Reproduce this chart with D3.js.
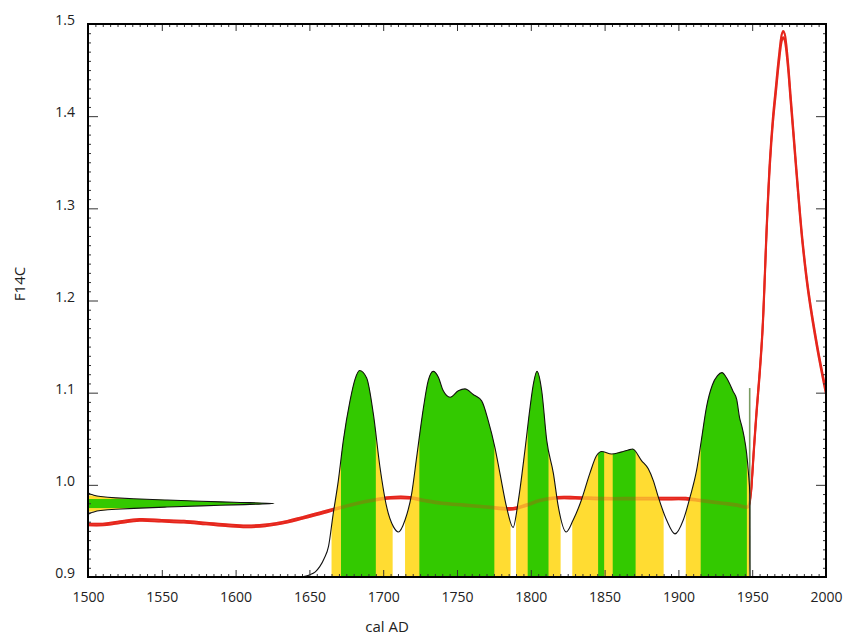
<!DOCTYPE html>
<html><head><meta charset="utf-8">
<script src="https://cdn.jsdelivr.net/npm/d3@7"></script>
<style>
body{margin:0;background:#fff}
svg{display:block}
text{font-family:"Open Sans",sans-serif;fill:#222}
</style>
</head><body>
<svg id="c" width="843" height="636"></svg>
<script>
// ---------- data ----------
const xTickValues = [1500,1550,1600,1650,1700,1750,1800,1850,1900,1950,2000];
const xTickLabels = ["1500","1550","1600","1650","1700","1750","1800","1850","1900","1950","2000"];
const yTickValues = [0.9,1.0,1.1,1.2,1.3,1.4,1.5];
const yTickLabels = ["0.9","1.0","1.1","1.2","1.3","1.4","1.5"];

// calibration curve (F14C vs cal AD)
const calYears = [1500,1510,1520,1535,1550,1565,1580,1595,1607,1620,1635,1645,1657,1668,1680,1692,1705,1718,1728,1740,1755,1770,1788,1797,1806,1818,1830,1850,1870,1890,1905,1915,1930,1940,1947,1949,1950,1951,1953,1955,1957,1960,1962,1964,1966,1968,1970,1971,1972,1974,1976,1978,1981,1984,1988,1994,2000];
const calF     = [0.957,0.957,0.959,0.962,0.961,0.960,0.958,0.956,0.955,0.956,0.960,0.964,0.969,0.974,0.979,0.983,0.986,0.986,0.983,0.980,0.978,0.976,0.974,0.978,0.983,0.986,0.986,0.985,0.985,0.985,0.985,0.983,0.980,0.978,0.976,0.990,1.010,1.035,1.080,1.120,1.168,1.285,1.350,1.395,1.428,1.460,1.485,1.489,1.486,1.460,1.420,1.380,1.320,1.265,1.210,1.150,1.100];
const calSigma = [0.0009,0.0009,0.0009,0.0009,0.0009,0.0009,0.0009,0.0009,0.0009,0.0009,0.0009,0.0009,0.0009,0.0009,0.0009,0.0009,0.0009,0.0009,0.0009,0.0009,0.0009,0.0009,0.0009,0.0009,0.0009,0.0009,0.0009,0.0009,0.0009,0.0009,0.0009,0.0009,0.0009,0.0009,0.0009,0.001,0.0012,0.0015,0.0018,0.002,0.0022,0.0025,0.0028,0.003,0.0032,0.0034,0.0035,0.0035,0.0035,0.0034,0.003,0.0028,0.0025,0.0022,0.002,0.0018,0.0016];

// calibrated age probability (relative)
const densYears = [1640,1646,1650,1654,1657,1660,1663,1666,1669.6,1673,1677.5,1681,1684,1688.8,1693.3,1697.8,1702.4,1706.9,1710.3,1714.8,1719.3,1722.7,1727.3,1730.5,1733.9,1737.3,1740.7,1745.3,1750.9,1755.4,1761,1766.7,1771.2,1775.7,1779.1,1783.6,1788,1791.6,1796,1799.5,1801.7,1804.2,1807.4,1810.8,1815.3,1818.7,1824,1828.7,1834.3,1840,1844.5,1848,1854.7,1861,1866,1869,1875,1879.6,1883,1886.4,1892,1897.7,1903.3,1908,1912.3,1915.5,1919,1923,1926.5,1929.5,1933,1937,1939.5,1941.5,1943,1944.5,1946.2,1947.5,1948.4,1948.5,1960];
const densProb  = [0,0.002,0.01,0.025,0.05,0.09,0.15,0.3,0.467,0.662,0.853,0.96,1.0,0.964,0.791,0.533,0.338,0.244,0.218,0.276,0.404,0.582,0.822,0.951,0.996,0.969,0.902,0.871,0.902,0.911,0.884,0.853,0.756,0.627,0.502,0.338,0.24,0.373,0.613,0.822,0.933,0.996,0.902,0.662,0.502,0.338,0.218,0.276,0.373,0.502,0.587,0.608,0.596,0.605,0.615,0.62,0.564,0.524,0.467,0.387,0.276,0.209,0.276,0.39,0.516,0.66,0.822,0.93,0.975,0.99,0.96,0.9,0.86,0.77,0.73,0.68,0.6,0.5,0.4,0,0];

const range95 = [[1665,1706.4],[1714.8,1786.3],[1790,1820.2],[1828.1,1890],[1905,1948.5]];
const range68 = [[1671.4,1695],[1724.5,1775.3],[1797.9,1812],[1845.6,1849.7],[1855.5,1871],[1915.1,1946.4]];
const spikeYear = 1948.3, spikeF = 1.105;

// measured F14C distribution
const measMean = 0.9797;
const measOffsets = [-0.0122,-0.011,-0.0095,-0.0076,-0.0062,-0.0052,-0.0038,-0.0025,-0.0014,0,0.0014,0.0025,0.0038,0.0052,0.0062,0.0076,0.0095,0.011,0.0122];
const measProb    = [0,0.006,0.025,0.068,0.15,0.247,0.425,0.61,0.785,1.0,0.785,0.61,0.425,0.247,0.15,0.068,0.025,0.006,0];
const meas68 = [-0.0049,0.0049];
const meas95 = [-0.0088,0.0088];

// ---------- drawing ----------
const svg = d3.select("#c");
const L=88,R=826,T=24,B=577;
const x = d3.scaleLinear().domain([1500,2000]).range([L,R]);
const y = d3.scaleLinear().domain([0.9,1.5]).range([B,T]);
const yd = d3.scaleLinear().domain([0,1]).range([y(0.9), y(1.124)]);
const xg = d3.scaleLinear().domain([0,1]).range([x(1500), x(1626)]);

const GREEN="#33c900", YELLOW="#ffdc32", RED="#e6261c";

const defs = svg.append("defs");
defs.append("clipPath").attr("id","plot").append("rect").attr("x",L).attr("y",T).attr("width",R-L).attr("height",B-T);

const dens = densYears.map((yr,i)=>({yr, p:densProb[i]}));
const densArea = d3.area().curve(d3.curveMonotoneX).x(d=>x(d.yr)).y0(yd(0)).y1(d=>yd(d.p));
const densLine = d3.line().curve(d3.curveMonotoneX).x(d=>x(d.yr)).y(d=>yd(d.p));
defs.append("clipPath").attr("id","densclip").append("path").attr("d",densArea(dens));

const meas = measOffsets.map((o,i)=>({F:measMean+o, p:measProb[i]}));
const measArea = d3.area().curve(d3.curveMonotoneY).y(d=>y(d.F)).x0(xg(0)).x1(d=>xg(d.p));
const measLine = d3.line().curve(d3.curveMonotoneY).y(d=>y(d.F)).x(d=>xg(d.p));
defs.append("clipPath").attr("id","measclip").append("path").attr("d",measArea(meas));

const g = svg.append("g").attr("clip-path","url(#plot)");

const cal = calYears.map((yr,i)=>({yr, f:calF[i], s:calSigma[i]}));
const calUp = d3.line().curve(d3.curveCatmullRom.alpha(0.5)).x(d=>x(d.yr)).y(d=>y(d.f+d.s));
const calLo = d3.line().curve(d3.curveCatmullRom.alpha(0.5)).x(d=>x(d.yr)).y(d=>y(d.f-d.s));
function drawCal(op){
  const cg = g.append("g").attr("opacity",op);
  cg.append("path").attr("d",calUp(cal)).attr("fill","none").attr("stroke",RED).attr("stroke-width",2);
  cg.append("path").attr("d",calLo(cal)).attr("fill","none").attr("stroke",RED).attr("stroke-width",2);
}
drawCal(1);

// density fills
const dg = g.append("g").attr("clip-path","url(#densclip)");
dg.selectAll("rect.y95").data(range95).join("rect")
  .attr("x",d=>x(d[0])).attr("width",d=>x(d[1])-x(d[0]))
  .attr("y",yd(1.05)).attr("height",yd(0)-yd(1.05)).attr("fill",YELLOW);
dg.selectAll("rect.g68").data(range68).join("rect")
  .attr("x",d=>x(d[0])).attr("width",d=>x(d[1])-x(d[0]))
  .attr("y",yd(1.05)).attr("height",yd(0)-yd(1.05)).attr("fill",GREEN);

// measurement fills
const mg = g.append("g").attr("clip-path","url(#measclip)");
mg.append("rect").attr("x",xg(0)).attr("width",xg(1.05)-xg(0))
  .attr("y",y(measMean+meas95[1])).attr("height",y(measMean+meas95[0])-y(measMean+meas95[1])).attr("fill",YELLOW);
mg.append("rect").attr("x",xg(0)).attr("width",xg(1.05)-xg(0))
  .attr("y",y(measMean+meas68[1])).attr("height",y(measMean+meas68[0])-y(measMean+meas68[1])).attr("fill",GREEN);

// red seen through fills
drawCal(0.28);

// spike
g.append("line").attr("x1",x(spikeYear)).attr("x2",x(spikeYear)).attr("y1",yd(0)).attr("y2",y(spikeF))
  .attr("stroke","#7a9c62").attr("stroke-width",1.6);

// outlines
g.append("path").attr("d",densLine(dens)).attr("fill","none").attr("stroke","#111").attr("stroke-width",1.1);
g.append("path").attr("d",measLine(meas)).attr("fill","none").attr("stroke","#111").attr("stroke-width",1.1);

// ---------- axes ----------
const minorX = d3.range(1500,2001,5).filter(v=>v%50!==0);
const minorY = d3.range(90,151,1).filter(v=>v%10!==0).map(v=>v/100);

function styleAxis(sel){ sel.select(".domain").remove(); sel.selectAll(".tick line").attr("stroke","#333").attr("stroke-width",1); }

svg.append("g").attr("transform",`translate(0,${B})`)
  .call(d3.axisBottom(x).tickValues(minorX).tickSize(-3).tickFormat("")).call(styleAxis);
svg.append("g").attr("transform",`translate(0,${T})`)
  .call(d3.axisTop(x).tickValues(minorX).tickSize(-3).tickFormat("")).call(styleAxis);
svg.append("g").attr("transform",`translate(${L},0)`)
  .call(d3.axisLeft(y).tickValues(minorY).tickSize(-3).tickFormat("")).call(styleAxis);
svg.append("g").attr("transform",`translate(${R},0)`)
  .call(d3.axisRight(y).tickValues(minorY).tickSize(-3).tickFormat("")).call(styleAxis);

const xb = svg.append("g").attr("transform",`translate(0,${B})`)
  .call(d3.axisBottom(x).tickValues(xTickValues).tickFormat((d,i)=>xTickLabels[i]).tickSizeInner(-7).tickSizeOuter(0).tickPadding(15))
  .call(styleAxis);
xb.selectAll("text").attr("font-size",14).attr("font-family","Open Sans, sans-serif").attr("fill","#222");
svg.append("g").attr("transform",`translate(0,${T})`)
  .call(d3.axisTop(x).tickValues(xTickValues).tickFormat("").tickSizeInner(-7).tickSizeOuter(0)).call(styleAxis);
const yl = svg.append("g").attr("transform",`translate(${L},0)`)
  .call(d3.axisLeft(y).tickValues(yTickValues).tickFormat((d,i)=>yTickLabels[i]).tickSizeInner(-10).tickSizeOuter(0).tickPadding(13))
  .call(styleAxis);
yl.selectAll("text").attr("font-size",14).attr("dy","0.05em").attr("font-family","Open Sans, sans-serif").attr("fill","#222");
svg.append("g").attr("transform",`translate(${R},0)`)
  .call(d3.axisRight(y).tickValues(yTickValues).tickFormat("").tickSizeInner(-10).tickSizeOuter(0)).call(styleAxis);

svg.append("rect").attr("x",L).attr("y",T).attr("width",R-L).attr("height",B-T)
  .attr("fill","none").attr("stroke","#000").attr("stroke-width",2);

svg.append("text").attr("x",(L+R)/2 - 70).attr("y",632).attr("text-anchor","middle").attr("font-size",15).text("cal AD");
svg.append("text").attr("transform","translate(25,284) rotate(-90)").attr("text-anchor","middle").attr("font-size",15).text("F14C");
</script>
</body></html>
